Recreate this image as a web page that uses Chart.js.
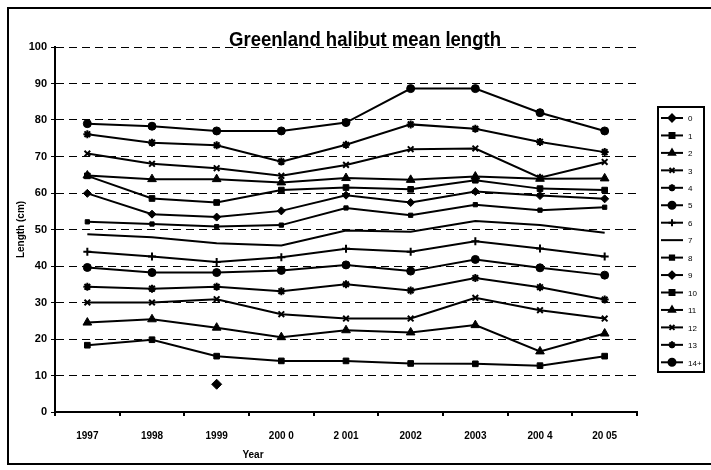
<!DOCTYPE html>
<html>
<head>
<meta charset="utf-8">
<script src="https://cdn.jsdelivr.net/npm/chart.js@4.4.1/dist/chart.umd.min.js"></script>
<style>
  html, body { margin: 0; padding: 0; background: #fff; }
  #wrap { position: relative; width: 711px; height: 470px; }
</style>
</head>
<body>
<div id="wrap"><canvas id="lengthChart" width="711" height="470"></canvas></div>
<script>
// Years on the x axis (as printed in the figure)
const years = ['1997', '1998', '1999', '200 0', '2 001', '2002', '2003', '200 4', '20 05'];
const yTicks = [0, 10, 20, 30, 40, 50, 60, 70, 80, 90, 100];

// Mean length (cm) per age group
const age0 = [null, null, 7.6, null, null, null, null, null, null];
const age1 = [18.3, 19.8, 15.3, 14.0, 14.0, 13.3, 13.2, 12.7, 15.3];
const age2 = [24.5, 25.4, 23.1, 20.5, 22.4, 21.8, 23.8, 16.6, 21.5];
const age3 = [30.0, 30.0, 30.9, 26.8, 25.6, 25.6, 31.3, 27.9, 25.6];
const age4 = [34.3, 33.8, 34.3, 33.1, 35.0, 33.3, 36.7, 34.2, 30.8];
const age5 = [39.6, 38.2, 38.2, 38.8, 40.3, 38.6, 41.8, 39.5, 37.5];
const age6 = [43.9, 42.6, 41.1, 42.4, 44.7, 43.9, 46.8, 44.8, 42.6];
const age7 = [48.7, 47.9, 46.2, 45.6, 49.7, 49.4, 52.3, 51.2, 49.1];
const age8 = [52.1, 51.5, 50.8, 51.2, 55.9, 53.9, 56.8, 55.3, 56.1];
const age9 = [59.9, 54.2, 53.4, 55.1, 59.4, 57.4, 60.4, 59.3, 58.4];
const age10 = [64.7, 58.5, 57.4, 60.8, 61.5, 61.0, 63.5, 61.2, 60.8];
const age11 = [64.8, 63.8, 63.8, 62.9, 64.1, 63.6, 64.5, 63.9, 64.0];
const age12 = [70.8, 68.0, 66.8, 64.7, 67.7, 72.0, 72.2, 64.2, 68.5];
const age13 = [76.1, 73.8, 73.1, 68.6, 73.2, 78.8, 77.6, 74.0, 71.2];
const age14 = [79.0, 78.3, 77.0, 77.0, 79.3, 88.6, 88.6, 82.0, 77.0];

const seriesLabels = ['0', '1', '2', '3', '4', '5', '6', '7', '8', '9', '10', '11', '12', '13', '14+'];
const seriesData = [age0, age1, age2, age3, age4, age5, age6, age7, age8, age9, age10, age11, age12, age13, age14];
const markers = ['rectRot', 'rect', 'triangle', 'crossRot', 'star', 'circle', 'cross', false, 'rect',
                 'rectRot', 'rect', 'triangle', 'crossRot', 'star', 'circle'];
const markerSize = [5, 4, 5, 4, 4, 4, 4, 0, 3, 4, 4, 5, 4, 4, 4];

const narrow = '"Liberation Sans Narrow", "Arial Narrow", Arial, sans-serif';

const datasets = seriesLabels.map((label, i) => ({
  label: label,
  data: seriesData[i],
  borderColor: '#000',
  backgroundColor: '#000',
  borderWidth: 2,
  tension: 0,
  pointStyle: markers[i],
  pointRadius: markerSize[i],
  pointBorderWidth: markers[i] === 'cross' || markers[i] === 'crossRot' || markers[i] === 'star' ? 2 : 1,
  pointBackgroundColor: '#000',
  pointBorderColor: '#000'
}));

// Frame, title, x axis title and the boxed legend
const decorPlugin = {
  id: 'decor',
  afterDraw(chart) {
    const ctx = chart.ctx;
    ctx.save();
    ctx.strokeStyle = '#000';
    ctx.lineWidth = 2;
    ctx.strokeRect(8, 8, 720, 456);

    ctx.fillStyle = '#000';
    ctx.textAlign = 'center';
    ctx.textBaseline = 'alphabetic';
    ctx.font = 'bold 21px Arial, "Liberation Sans", sans-serif';
    ctx.fillText('Greenland halibut mean length', 365, 46, 272);

    ctx.font = 'bold 10px ' + narrow;
    ctx.textBaseline = 'middle';
    ctx.fillText('Year', 253, 455);

    // legend
    const top = 107, left = 658, w = 46, h = 265;
    ctx.lineWidth = 2;
    ctx.strokeRect(left, top, w, h);
    const step = 17.45;
    seriesLabels.forEach((label, i) => {
      const y = 118 + i * step;
      ctx.strokeStyle = '#000';
      ctx.lineWidth = 2;
      ctx.beginPath();
      ctx.moveTo(661, y);
      ctx.lineTo(683, y);
      ctx.stroke();
      if (markers[i]) {
        Chart.helpers.drawPoint(ctx, {
          pointStyle: markers[i],
          radius: Math.min(markerSize[i], 3.5),
          rotation: 0,
          borderWidth: 1
        }, 672, y);
        ctx.fill();
      }
      ctx.fillStyle = '#000';
      ctx.textAlign = 'left';
      ctx.font = '8px ' + narrow;
      ctx.fillText(label, 688, y + 1, 15);
    });
    ctx.restore();
  }
};

new Chart(document.getElementById('lengthChart'), {
  type: 'line',
  data: { labels: years, datasets: datasets },
  options: {
    responsive: false,
    animation: false,
    layout: { padding: { left: 15, right: 74, top: 47, bottom: 0 } },
    plugins: {
      legend: { display: false },
      title: { display: false },
      tooltip: { enabled: false }
    },
    scales: {
      x: {
        offset: true,
        afterFit: s => { s.height = 58; },
        grid: { display: true, offset: true, drawOnChartArea: false, tickLength: 4, color: '#000', lineWidth: 2 },
        border: { display: true, color: '#000', width: 2 },
        ticks: { color: '#000', padding: 14, maxRotation: 0, font: { family: narrow, size: 10, weight: 'bold' } }
      },
      y: {
        min: 0,
        max: 100,
        afterFit: s => { s.width = 40; },
        afterBuildTicks: s => { s.ticks = yTicks.map(v => ({ value: v })); },
        grid: {
          color: ctx => ctx.tick && ctx.tick.value === 0 ? 'rgba(0,0,0,0)' : '#000',
          lineWidth: 1,
          tickLength: 4,
          tickColor: '#000'
        },
        border: { display: true, color: '#000', width: 2, dash: [8, 5] },
        ticks: { color: '#000', padding: 4, font: { family: narrow, size: 11, weight: 'bold' } },
        title: { display: true, text: 'Length (cm)', color: '#000', padding: 0, font: { family: narrow, size: 10, weight: 'bold' } }
      }
    }
  },
  plugins: [decorPlugin]
});
</script>
</body>
</html>
